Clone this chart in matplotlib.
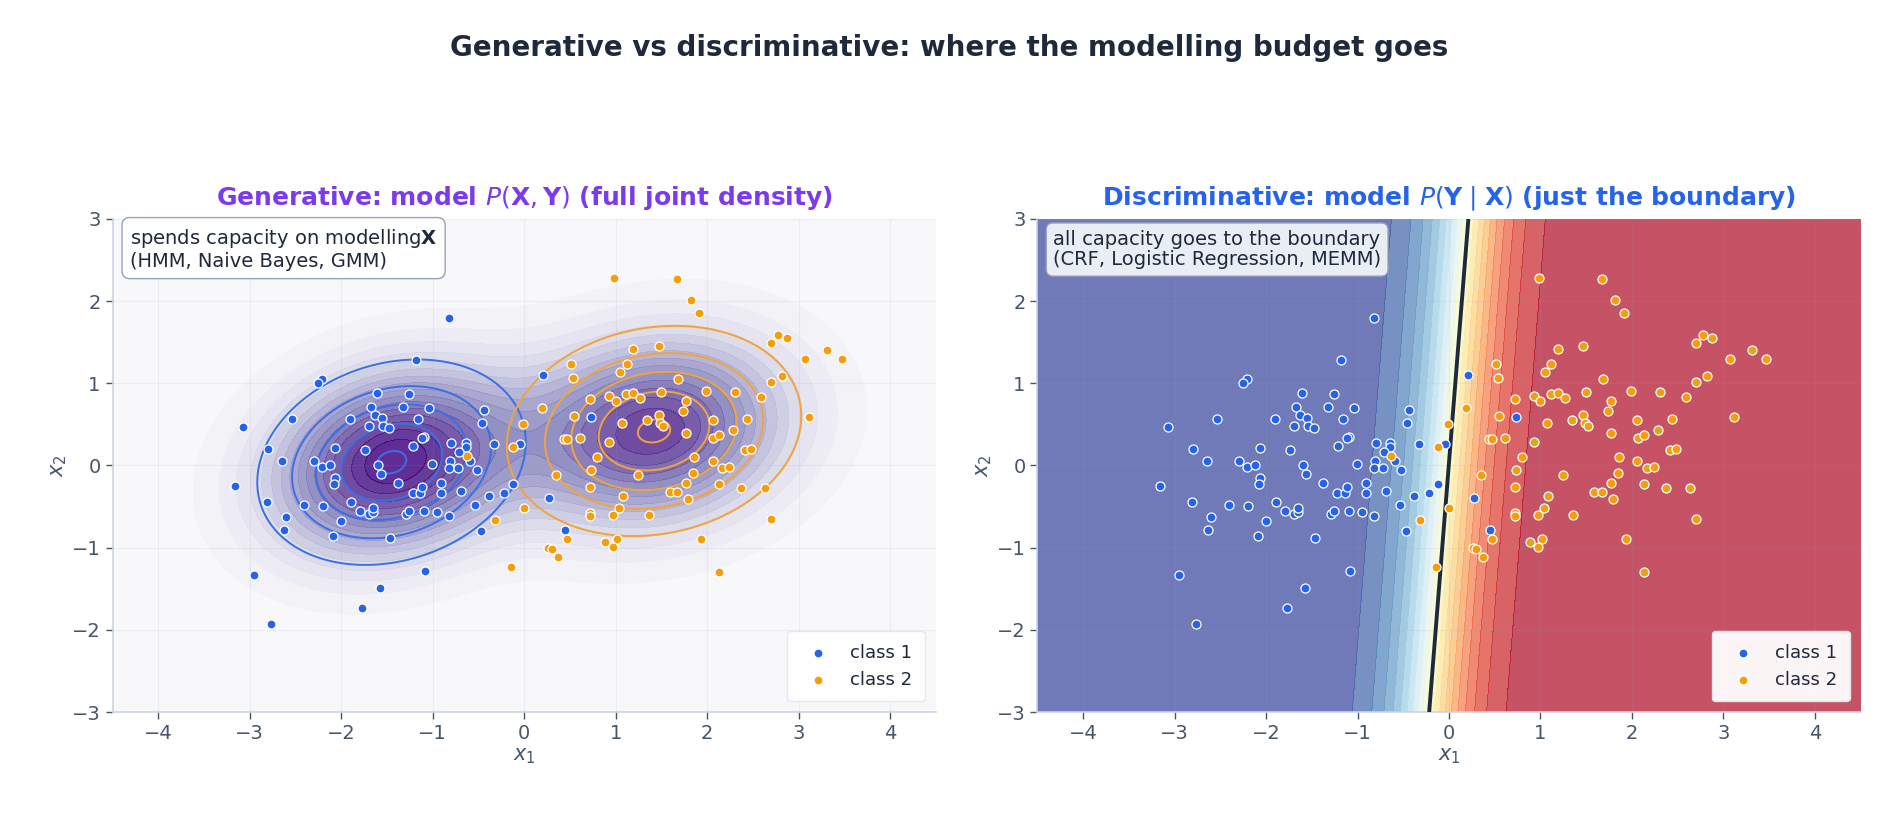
import numpy as np
import matplotlib
matplotlib.use("Agg")
import matplotlib.pyplot as plt

# class 1 (blue) points
c1_x = [-1.18, -2.21, -2.25, -1.61, -1.26, -1.67, -1.32, -1.04, -2.54, -1.90,
        -1.63, -1.55, -1.16, -3.07, -1.70, -1.54, -1.48, -1.09, -1.12, -1.21,
        -2.80, -2.07, -1.74, -2.65, -2.30, -2.21, -2.12, -1.60, -1.56, -2.07,
        -2.08, -1.01, -1.38, -1.22, -1.14, -1.12, -3.16, -2.81, -2.41, -2.20,
        -1.89, -1.79, -1.70, -1.65, -1.65, -1.29, -1.26, -1.09, -2.60, -2.63,
        -2.00, -2.09, -1.47, -2.95, -1.08, -1.58, -1.77, -2.77, -0.82, 0.21,
        -0.44, -0.46, 0.73, -0.80, -0.64, -0.64, -0.71, -0.81, -0.33, -0.04,
        -0.82, -0.72, -0.59, -0.52, -0.91, -0.91, -0.69, -0.95, -0.82, -0.54,
        -0.38, -0.22, -0.12, -0.47, 0.27, 0.45]
c1_y = [1.28, 1.05, 1.00, 0.88, 0.87, 0.71, 0.71, 0.70, 0.57, 0.57,
        0.61, 0.58, 0.56, 0.47, 0.48, 0.48, 0.46, 0.35, 0.34, 0.24,
        0.20, 0.21, 0.19, 0.06, 0.06, -0.02, 0.00, 0.00, -0.10, -0.15,
        -0.22, 0.02, -0.21, -0.33, -0.33, -0.26, -0.25, -0.44, -0.48, -0.49,
        -0.45, -0.55, -0.59, -0.57, -0.52, -0.59, -0.55, -0.55, -0.63, -0.78,
        -0.68, -0.86, -0.88, -1.33, -1.29, -1.49, -1.74, -1.93, 1.80, 1.10,
        0.68, 0.52, 0.59, 0.27, 0.27, 0.23, 0.16, 0.05, 0.26, 0.26,
        -0.03, -0.03, 0.05, -0.05, -0.21, -0.33, -0.31, -0.56, -0.62, -0.48,
        -0.37, -0.33, -0.22, -0.80, -0.40, -0.78]

# class 2 (orange) points
c2_x = [0.98, 0.51, 0.53, 1.19, 1.12, 1.05, 0.72, 0.93, 1.00, 1.11,
        1.19, 1.27, 0.19, -0.01, 0.55, 1.07, 0.44, 0.47, 0.61, 0.93,
        -0.63, -0.12, 0.80, 1.67, 1.82, 1.91, 1.47, 2.78, 2.87, 2.70,
        3.31, 3.47, 3.07, 2.82, 2.70, 2.59, 1.68, 1.50, 1.99, 2.31,
        1.77, 1.74, 1.47, 1.34, 1.49, 1.52, 2.06, 2.44, 3.12, 1.77,
        2.28, 2.07, 2.13, 2.42, 2.48, 1.86, 2.06, 0.00, -0.32, 0.35,
        0.73, 0.72, 1.25, 1.08, 1.04, 0.97, 0.72, 0.72, 0.47, 0.26,
        0.30, 0.37, 0.88, 1.02, 0.97, -0.14, 2.16, 2.24, 1.85, 1.77,
        1.59, 1.67, 1.79, 2.13, 2.37, 2.63, 1.36, 2.70, 1.93, 2.13]
c2_y = [2.28, 1.24, 1.06, 1.42, 1.24, 1.14, 0.81, 0.85, 0.78, 0.87,
        0.88, 0.82, 0.70, 0.50, 0.60, 0.52, 0.32, 0.32, 0.33, 0.28,
        0.11, 0.22, 0.10, 2.27, 2.01, 1.85, 1.46, 1.59, 1.55, 1.49,
        1.41, 1.30, 1.30, 1.09, 1.02, 0.83, 1.05, 0.89, 0.91, 0.89,
        0.78, 0.66, 0.61, 0.55, 0.52, 0.48, 0.55, 0.56, 0.59, 0.40,
        0.43, 0.33, 0.37, 0.19, 0.20, 0.10, 0.05, -0.52, -0.66, -0.12,
        -0.05, -0.26, -0.11, -0.37, -0.52, -0.60, -0.58, -0.61, -0.89, -1.01,
        -1.02, -1.11, -0.93, -0.90, -0.99, -1.24, -0.03, -0.02, -0.09, -0.21,
        -0.32, -0.32, -0.41, -0.22, -0.27, -0.27, -0.60, -0.65, -0.90, -1.30]

# class-conditional Gaussians (mean, sd_x, sd_y, cov_xy)
g1_mean = [-1.45, 0.04]
g1_shape = [0.653, 0.556, 0.071]
g2_mean = [1.42, 0.42]
g2_shape = [0.716, 0.569, 0.058]
ring_frac = [0.08, 0.25, 0.45, 0.7, 0.97]
# the shaded joint density is drawn wider than the rings
fill_spread = 1.4

# logistic boundary
lr_w = [3.5, -0.25]
lr_b = 0.01

C_BLUE = '#2563eb'
C_ORANGE = '#f59e0b'
C_TEXT = '#1e293b'
C_MUTED = '#475569'
C_SPINE = '#cbd5e1'


def gauss_pdf(X, Y, mean, shape, scale=1.0):
    cov = np.array([[shape[0] ** 2, shape[2]], [shape[2], shape[1] ** 2]]) * scale ** 2
    inv = np.linalg.inv(cov)
    dx = X - mean[0]
    dy = Y - mean[1]
    q = inv[0, 0] * dx * dx + 2 * inv[0, 1] * dx * dy + inv[1, 1] * dy * dy
    peak = 1 / (2 * np.pi * np.sqrt(np.linalg.det(cov)))
    return peak * np.exp(-0.5 * q), peak


def style_axes(ax):
    ax.set_xlim(-4.5, 4.5)
    ax.set_ylim(-3, 3)
    ax.set_facecolor('#f8f8fb')
    for s in ['top', 'right']:
        ax.spines[s].set_visible(False)
    for s in ['left', 'bottom']:
        ax.spines[s].set_color(C_SPINE)
        ax.spines[s].set_linewidth(1.2)
    ax.tick_params(colors=C_MUTED, labelsize=14, length=5, width=1)
    ax.grid(True, color='#94a3b8', alpha=0.12, linewidth=0.8)
    ax.set_xlabel('$x_1$', fontsize=15, color=C_MUTED, labelpad=2)
    ax.set_ylabel('$x_2$', fontsize=15, color=C_MUTED, labelpad=2)


def scatter_classes(ax):
    ax.scatter(c1_x, c1_y, s=42, c=C_BLUE, edgecolors='white', linewidths=0.9, zorder=4, label='class 1')
    ax.scatter(c2_x, c2_y, s=42, c=C_ORANGE, edgecolors='white', linewidths=0.9, zorder=4, label='class 2')
    leg = ax.legend(loc='lower right', fontsize=13, frameon=True, framealpha=0.95,
                    borderpad=0.7, handletextpad=0.8, borderaxespad=0.6)
    leg.get_frame().set_edgecolor('#e2e8f0')
    leg.get_frame().set_facecolor('white')
    for t in leg.get_texts():
        t.set_color(C_TEXT)


fig = plt.figure(figsize=(18.98, 8.14), dpi=100)
ax1 = fig.add_axes([0.0593, 0.1253, 0.4337, 0.6057])
ax2 = fig.add_axes([0.5466, 0.1253, 0.4337, 0.6057])

gx, gy = np.meshgrid(np.linspace(-4.5, 4.5, 450), np.linspace(-3, 3, 300))

# generative panel: joint density P(X,Y) summed over classes + per-class rings
style_axes(ax1)
f1, _ = gauss_pdf(gx, gy, g1_mean, g1_shape, fill_spread)
f2, _ = gauss_pdf(gx, gy, g2_mean, g2_shape, fill_spread)
joint = 0.5 * f1 + 0.5 * f2
ax1.contourf(gx, gy, joint, levels=np.linspace(0, joint.max() * 1.001, 18), cmap='Purples', alpha=0.85, zorder=1)
g1, pk1 = gauss_pdf(gx, gy, g1_mean, g1_shape)
g2, pk2 = gauss_pdf(gx, gy, g2_mean, g2_shape)
ax1.contour(gx, gy, g1, levels=pk1 * np.array(ring_frac), colors='#3b6fe6', linewidths=1.4, zorder=2)
ax1.contour(gx, gy, g2, levels=pk2 * np.array(ring_frac), colors='#f2a33a', linewidths=1.4, zorder=2)
scatter_classes(ax1)
ax1.set_title(r'Generative: model $P(\mathbf{X},\mathbf{Y})$ (full joint density)',
              fontsize=18, fontweight='bold', color='#7c3aed', pad=10)
ax1.text(0.021, 0.983, 'spends capacity on modelling$\\mathbf{X}$\n(HMM, Naive Bayes, GMM)',
         transform=ax1.transAxes, ha='left', va='top', fontsize=14, color=C_TEXT, zorder=6,
         linespacing=1.1,
         bbox=dict(boxstyle='round,pad=0.4', facecolor='white', edgecolor='#94a3b8', linewidth=1))

# discriminative panel: logistic posterior
style_axes(ax2)
logit = lr_w[0] * gx + lr_w[1] * gy + lr_b
post = 1 / (1 + np.exp(-logit))
ax2.contourf(gx, gy, post, levels=np.linspace(0, 1, 21), cmap='RdYlBu_r', alpha=0.7, zorder=1)
ax2.contour(gx, gy, post, levels=[0.5], colors=C_TEXT, linewidths=2.8, zorder=3)
scatter_classes(ax2)
ax2.set_title(r'Discriminative: model $P(\mathbf{Y}\mid\mathbf{X})$ (just the boundary)',
              fontsize=18, fontweight='bold', color=C_BLUE, pad=10)
ax2.text(0.019, 0.978, 'all capacity goes to the boundary\n(CRF, Logistic Regression, MEMM)',
         transform=ax2.transAxes, ha='left', va='top', fontsize=14, color=C_TEXT, zorder=6,
         linespacing=1.1,
         bbox=dict(boxstyle='round,pad=0.35', facecolor='#f1f5f9', edgecolor='#94a3b8', linewidth=1, alpha=0.95))

fig.suptitle('Generative vs discriminative: where the modelling budget goes',
             fontsize=20, fontweight='bold', color=C_TEXT, y=0.941, va='center')

fig.savefig('out.png', dpi=100)
